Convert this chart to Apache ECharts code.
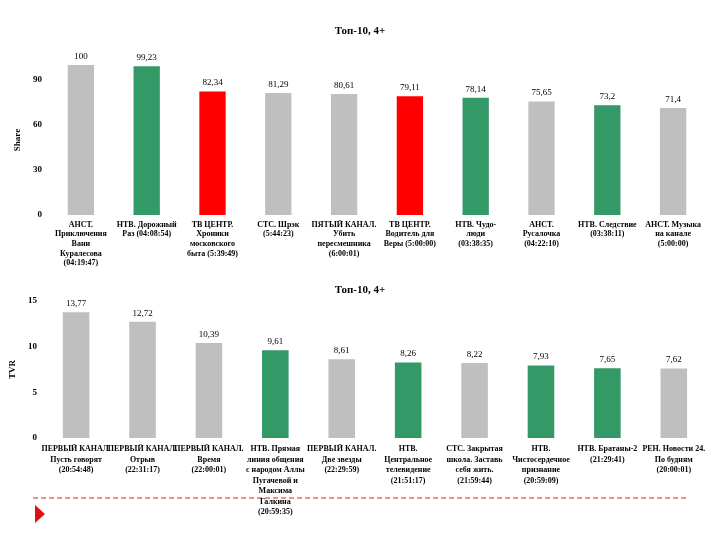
<!DOCTYPE html>
<html><head><meta charset="utf-8">
<script src="https://cdn.jsdelivr.net/npm/echarts@6/dist/echarts.min.js"></script>
<style>html,body{margin:0;padding:0;background:#fff}#c{width:720px;height:540px}</style>
</head><body><div id="c"></div>
<script>
const titleText = 'Топ-10, 4+';
const topCategories = [
  'АНСТ.\nПриключения\nВани\nКуралесова\n(04:19:47)',
  'НТВ. Дорожный\nРаз (04:08:54)',
  'ТВ ЦЕНТР.\nХроники\nмосковского\nбыта (5:39:49)',
  'СТС. Шрэк\n(5:44:23)',
  'ПЯТЫЙ КАНАЛ.\nУбить\nпересмешника\n(6:00:01)',
  'ТВ ЦЕНТР.\nВодитель для\nВеры (5:00:00)',
  'НТВ. Чудо-\nлюди\n(03:38:35)',
  'АНСТ.\nРусалочка\n(04:22:10)',
  'НТВ. Следствие\n(03:38:11)',
  'АНСТ. Музыка\nна канале\n(5:00:00)'
];
const topValues = [100, 99.23, 82.34, 81.29, 80.61, 79.11, 78.14, 75.65, 73.2, 71.4];
const topGroups = ['other','ntv','tvc','other','other','tvc','ntv','other','ntv','other'];

const bottomCategories = [
  'ПЕРВЫЙ КАНАЛ.\nПусть говорят\n(20:54:48)',
  'ПЕРВЫЙ КАНАЛ.\nОтрыв\n(22:31:17)',
  'ПЕРВЫЙ КАНАЛ.\nВремя\n(22:00:01)',
  'НТВ. Прямая\nлиния общения\nс народом Аллы\nПугачевой и\nМаксима\nГалкина\n(20:59:35)',
  'ПЕРВЫЙ КАНАЛ.\nДве звезды\n(22:29:59)',
  'НТВ.\nЦентральное\nтелевидение\n(21:51:17)',
  'СТС. Закрытая\nшкола. Заставь\nсебя жить.\n(21:59:44)',
  'НТВ.\nЧистосердечное\nпризнание\n(20:59:09)',
  'НТВ. Братаны-2\n(21:29:41)',
  'РЕН. Новости 24.\nПо будням\n(20:00:01)'
];
const bottomValues = [13.77, 12.72, 10.39, 9.61, 8.61, 8.26, 8.22, 7.93, 7.65, 7.62];
const bottomGroups = ['other','other','other','ntv','other','ntv','other','ntv','ntv','other'];

const topTicks = [0, 30, 60, 90];
const bottomTicks = [0, 5, 10, 15];

const groupColors = { other: '#BFBFBF', ntv: '#339966', tvc: '#FF0000' };
const FONT = 'Liberation Serif';

function fmt(v){ return String(v).replace('.', ','); }

const chart = echarts.init(document.getElementById('c'));
const catAxis = (data, idx, lh, margin) => ({
  type: 'category', gridIndex: idx, data: data,
  axisLine: { show: false }, axisTick: { show: false },
  axisLabel: { interval: 0, color: '#000', fontFamily: FONT, fontWeight: 'bold', fontSize: 8, lineHeight: lh, margin: margin }
});
const valAxis = (idx, name, ticks, gap) => ({
  type: 'value', gridIndex: idx, min: ticks[0], max: ticks[ticks.length-1] === 90 ? 100 : ticks[ticks.length-1],
  interval: ticks[1] - ticks[0], name: name, nameLocation: 'middle', nameGap: gap, nameRotate: 90,
  nameTextStyle: { fontFamily: FONT, fontWeight: 'bold', fontSize: 9, color: '#000' },
  axisLine: { show: false }, axisTick: { show: false }, splitLine: { show: false },
  axisLabel: { color: '#000', fontFamily: FONT, fontWeight: 'bold', fontSize: 9, margin: 6,
    formatter: v => ticks.indexOf(v) >= 0 ? String(v) : '' }
});
const barSeries = (vals, groups, idx) => ({
  type: 'bar', xAxisIndex: idx, yAxisIndex: idx, barWidth: '40%',
  data: vals.map((v, i) => ({ value: v, itemStyle: { color: groupColors[groups[i]] } })),
  label: { show: true, position: 'top', distance: 4, color: '#000', fontFamily: FONT, fontSize: 9,
    formatter: p => fmt(p.value) }
});

chart.setOption({
  animation: false,
  title: [
    { text: titleText, left: 'center', top: 21, textStyle: { fontFamily: FONT, fontWeight: 'bold', fontSize: 11, color: '#000' } },
    { text: titleText, left: 'center', top: 280, textStyle: { fontFamily: FONT, fontWeight: 'bold', fontSize: 11, color: '#000' } }
  ],
  grid: [
    { left: 48, right: 14, top: 65, height: 150 },
    { left: 40, right: 13, top: 301, height: 137 }
  ],
  xAxis: [catAxis(topCategories, 0, 9.6, 5), catAxis(bottomCategories, 1, 10.5, 6)],
  yAxis: [valAxis(0, 'Share', topTicks, 20), valAxis(1, 'TVR', bottomTicks, 20)],
  series: [barSeries(topValues, topGroups, 0), barSeries(bottomValues, bottomGroups, 1)],
  graphic: [
    { type: 'line', shape: { x1: 33, y1: 498, x2: 687, y2: 498 }, style: { stroke: '#E02020', lineWidth: 1, lineDash: [5, 3] }, z: -1 },
    { type: 'polygon', shape: { points: [[35, 505], [35, 523], [45, 514]] }, style: { fill: '#E01010' } }
  ]
});
</script></body></html>
